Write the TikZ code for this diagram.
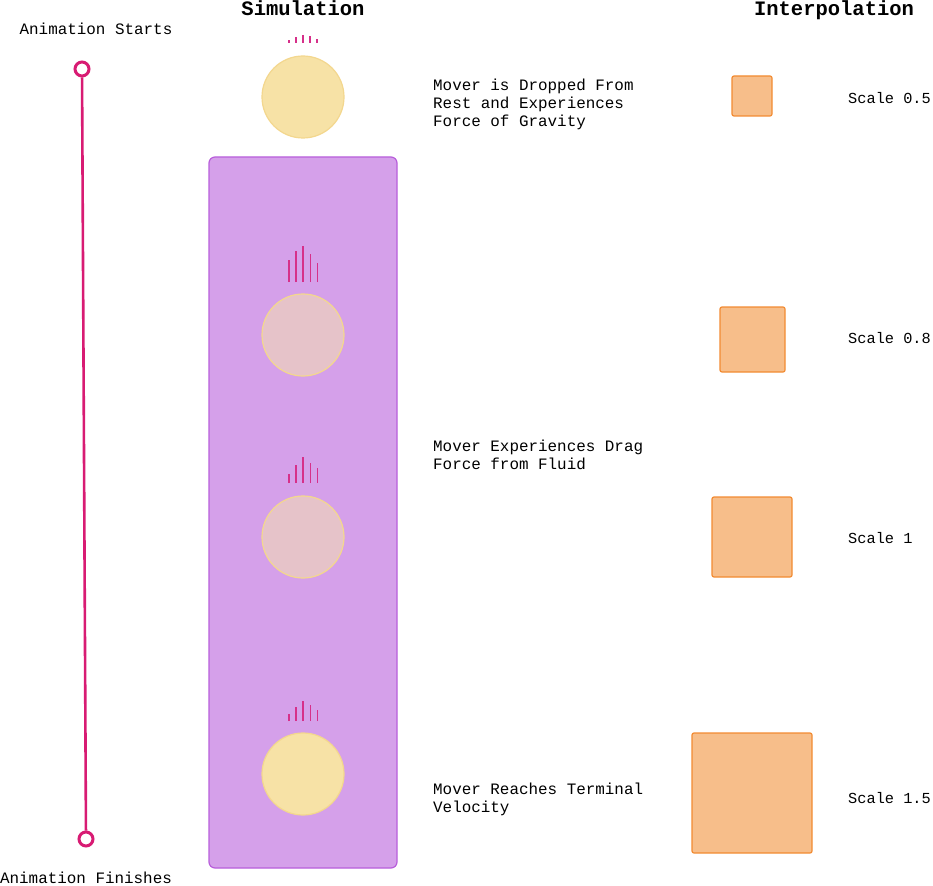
\documentclass[tikz,border=0pt]{standalone}
\usepackage{fontspec}
\setmonofont{Liberation Mono}
\definecolor{mag}{HTML}{D81B73}
\definecolor{tick}{HTML}{D6308A}
\definecolor{sun}{HTML}{F7E2A6}
\definecolor{sunline}{HTML}{F3D78E}
\definecolor{pinkish}{HTML}{E6C3C9}
\definecolor{purp}{HTML}{D5A0EA}
\definecolor{purpline}{HTML}{B85EDB}
\definecolor{sq}{HTML}{F7BE8A}
\definecolor{sqline}{HTML}{F28B32}
\begin{document}
\begin{tikzpicture}[x=1pt,y=-1pt,
  txt/.style={font=\ttfamily\fontsize{15.9}{18}\selectfont, inner sep=0pt, align=left},
  sctxt/.style={font=\ttfamily\fontsize{15.3}{18}\selectfont, inner sep=0pt, anchor=west},
  ttl/.style={font=\ttfamily\bfseries\fontsize{20.5}{22}\selectfont, inner sep=0pt},
  ball/.style={circle, minimum size=82pt, inner sep=0pt, line width=1.2pt},
  sqbox/.style={draw=sqline, fill=sq, line width=1.2pt, rounded corners=2pt, inner sep=0pt},
  tk/.style={draw=tick, line width=1.6pt},
  endpt/.style={circle, draw=mag, line width=3pt, fill=white, minimum size=14pt, inner sep=0pt}]
\useasboundingbox (0,0) rectangle (933,885);
% titles
\node[ttl, anchor=base] (tsim) at (303,16) {Simulation};
\node[ttl, anchor=base] (tint) at (834,16) {Interpolation};
% timeline
\node[endpt] (start) at (82,69) {};
\node[endpt] (finish) at (86,839) {};
\draw[mag, line width=2.6pt] (start) -- (finish);
\node[txt] (lstart) at (96,29) {Animation Starts};
\node[txt] (lfinish) at (86,878) {Animation Finishes};
% purple container
\node[draw=purpline, fill=purp, line width=1.2pt, rounded corners=6pt, minimum width=188pt, minimum height=711pt, inner sep=0pt] (fluid) at (303,512.5) {};
% balls
\node[ball, fill=sun, draw=sunline] (b1) at (303,97) {};
\node[ball, fill=pinkish, draw=sunline] (b2) at (303,335) {};
\node[ball, fill=pinkish, draw=sunline] (b3) at (303,537) {};
\node[ball, fill=sun, draw=sunline] (b4) at (303,774) {};
% ticks
\foreach \x/\t in {289/40,296/37,303/35,310/36,317/39} \draw[tk, line width=1.3pt] (\x,43) -- (\x,\t);
\foreach \x/\t in {289/260,296/251,303/246,310.5/254,317.5/263} \draw[tk] (\x,282) -- (\x,\t);
\foreach \x/\t in {289/474,296/465,303/457,310.5/463,317.5/468} \draw[tk] (\x,483) -- (\x,\t);
\foreach \x/\t in {289/714,296/707,303/701,310.5/705,317.5/710} \draw[tk] (\x,721) -- (\x,\t);
% descriptions
\node[txt, anchor=north west] (d1) at (433,79) {Mover is Dropped From\\Rest and Experiences\\Force of Gravity};
\node[txt, anchor=north west] (d2) at (433,440) {Mover Experiences Drag\\Force from Fluid};
\node[txt, anchor=north west] (d3) at (433,783) {Mover Reaches Terminal\\Velocity};
% squares
\node[sqbox, minimum size=40pt] (s1) at (752,96) {};
\node[sqbox, minimum size=65pt] (s2) at (752.5,339.5) {};
\node[sqbox, minimum size=80pt] (s3) at (752,537) {};
\node[sqbox, minimum size=120pt] (s4) at (752,793) {};
\node[sctxt] (l1) at (848,98) {Scale 0.5};
\node[sctxt] (l2) at (848,338) {Scale 0.8};
\node[sctxt] (l3) at (848,538) {Scale 1};
\node[sctxt] (l4) at (848,798) {Scale 1.5};
\end{tikzpicture}
\end{document}
